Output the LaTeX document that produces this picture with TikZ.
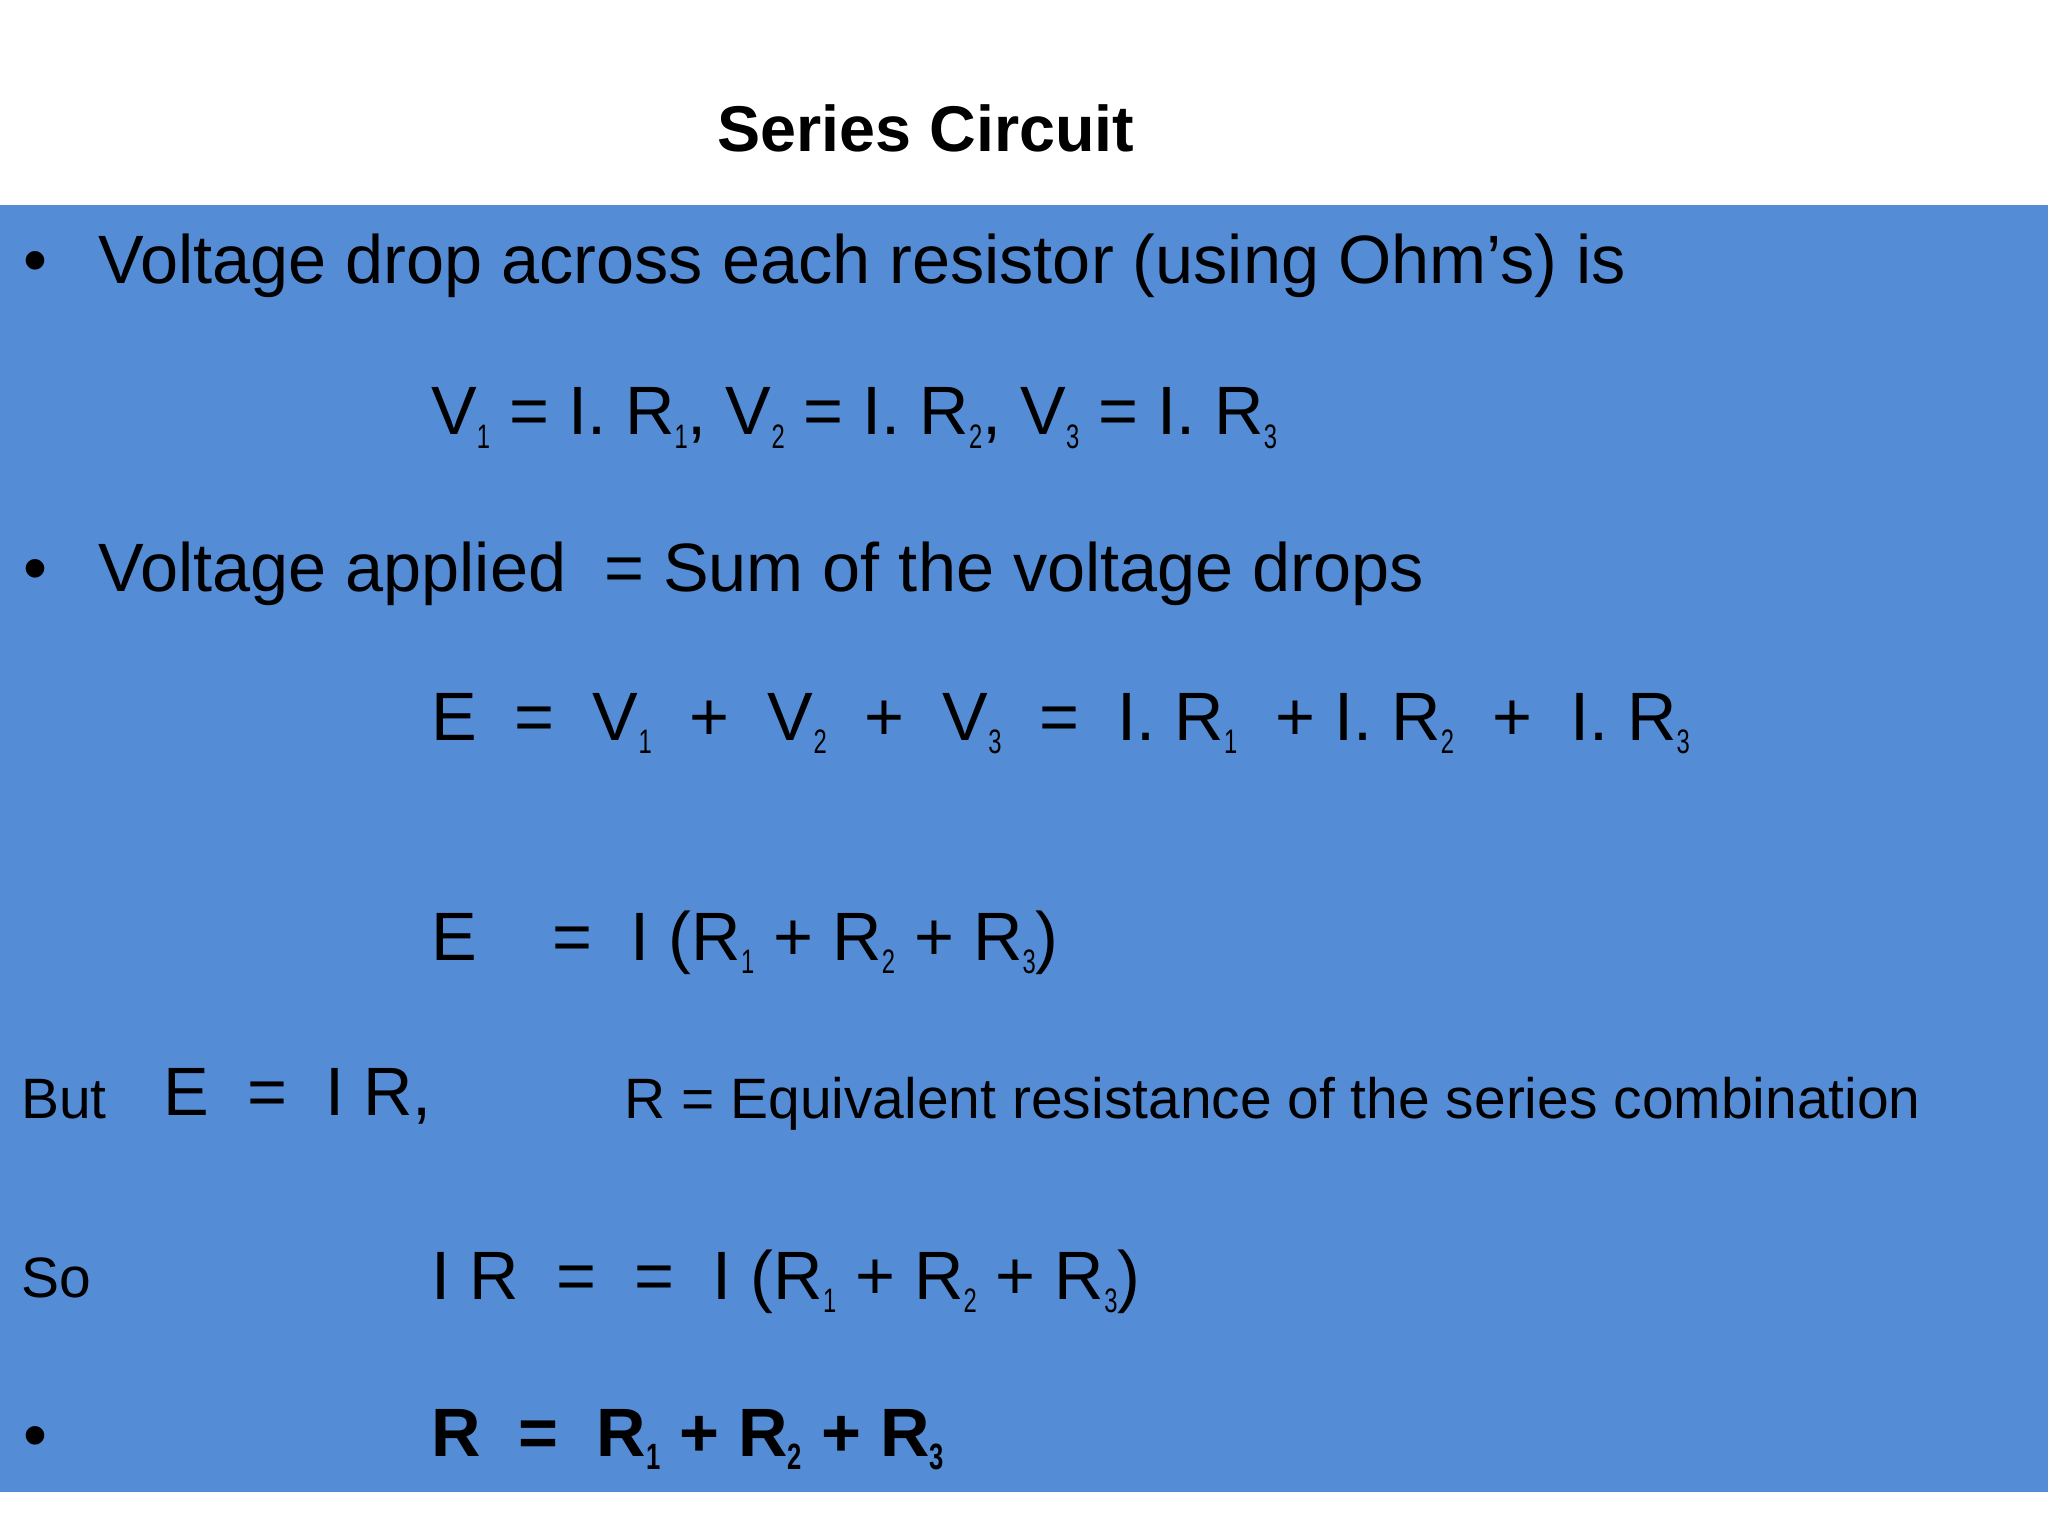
\documentclass[tikz,border=0pt]{standalone}
\usepackage{fontspec}
\usepackage{graphicx}
\setmainfont{Liberation Sans}
\definecolor{slide}{HTML}{558CD6}
\newcommand\sbx[1]{\raisebox{-10pt}{\scalebox{0.7}[1]{\fontsize{26}{26}\selectfont #1}}}
\newcommand\sbb[1]{\raisebox{-10pt}{\scalebox{0.7}[1]{\fontsize{28}{28}\selectfont\bfseries #1}}}
\tikzset{txt/.style={anchor=base west,inner sep=0pt,font=\fontsize{52.4}{60}\selectfont},
 sml/.style={anchor=base west,inner sep=0pt,font=\fontsize{43.6}{50}\selectfont}}
\begin{document}
\begin{tikzpicture}[x=1pt,y=-1pt]
\useasboundingbox (0,0) rectangle (1568,1176);
\fill[white] (0,0) rectangle (1568,1176);
\fill[slide] (0,157) rectangle (1568,1142);
\node[anchor=base,inner sep=0pt,font=\fontsize{49.5}{56}\selectfont\bfseries] (title) at (709,116) {Series Circuit};
\node[txt] (b1) at (18,217) {•};
\node[txt] (l1) at (75,217) {Voltage drop across each resistor (using Ohm’s) is};
\node[txt] (l2) at (330,333) {V\sbx{1} = I. R\sbx{1}, V\sbx{2} = I. R\sbx{2}, V\sbx{3} = I. R\sbx{3}};
\node[txt] (b2) at (18,453) {•};
\node[txt] (l3) at (75,453) {Voltage applied\ \ = Sum of the voltage drops};
\node[txt] (l4) at (330,567) {E\ \ =\ \ V\sbx{1}\ \ +\ \ V\sbx{2}\ \ +\ \ V\sbx{3}\ \ =\ \ I. R\sbx{1}\ \ + I. R\sbx{2}\ \ +\ \ I. R\sbx{3}};
\node[txt] (l5) at (330,735) {E\ \ \ \ =\ \ I (R\sbx{1} + R\sbx{2} + R\sbx{3})};
\node[sml] (but) at (16,856) {But};
\node[txt] (l6) at (125,854) {E\ \ =\ \ I R,};
\node[sml] (eq) at (478,856) {R = Equivalent resistance of the series combination};
\node[sml] (so) at (16,993) {So};
\node[txt] (l7) at (330,995) {I R\ \ =\ \ =\ \ I (R\sbx{1} + R\sbx{2} + R\sbx{3})};
\node[txt] (b3) at (18,1117) {•};
\node[txt,font=\fontsize{52.4}{60}\selectfont\bfseries] (l8) at (330,1115) {R\ \ =\ \ R\sbb{1} + R\sbb{2} + R\sbb{3}};
\end{tikzpicture}
\end{document}
